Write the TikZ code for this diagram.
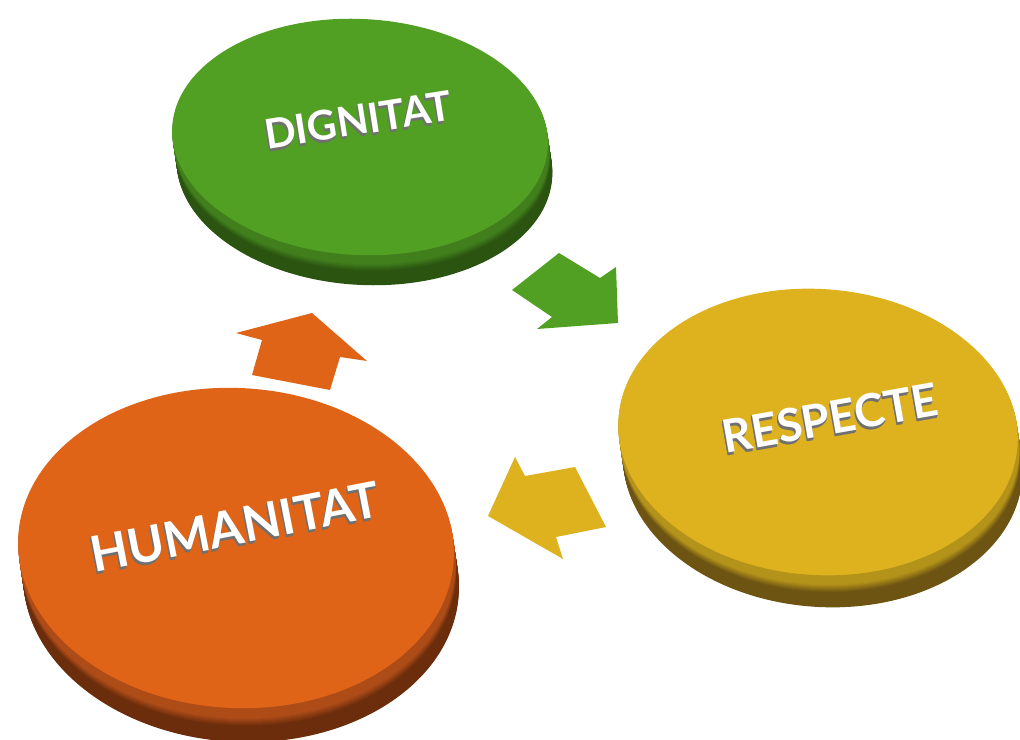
\documentclass[tikz,border=0pt]{standalone}
\usepackage{fontspec}
\setmainfont{Lato}
\definecolor{gtop}{HTML}{52A023}
\definecolor{gsa}{HTML}{417F1D}
\definecolor{gsb}{HTML}{2A5410}
\definecolor{otop}{HTML}{E06418}
\definecolor{osa}{HTML}{AE4C18}
\definecolor{osb}{HTML}{6B2D0B}
\definecolor{ytop}{HTML}{DEB21E}
\definecolor{ysa}{HTML}{B4931A}
\definecolor{ysb}{HTML}{6E5412}
\definecolor{tshadow}{HTML}{707070}
\newcommand\mydisk[8]{% cx cy rx ry rot thick sidetop sidebot
  \foreach \d in {#6,...,1}{%
    \pgfmathsetmacro\pp{min(100,max(0,(\d/#6-0.3)*400))}%
    \fill[#8!\pp!#7] (#1+0.15*\d,#2+\d) ellipse[x radius=#3, y radius=#4, rotate=#5];
  }%
}
\tikzset{
  lbl/.style={text=white, inner sep=0pt},
  lblsh/.style={text=tshadow, inner sep=0pt},
  fdig/.style={font=\bfseries\fontsize{35}{38}\selectfont, rotate=9},
  fres/.style={font=\bfseries\fontsize{39}{42}\selectfont, rotate=10},
  fhum/.style={font=\bfseries\fontsize{42}{45}\selectfont, rotate=11},
}
\begin{document}
\begin{tikzpicture}[x=0.03cm,y=-0.03cm]
\useasboundingbox (0,0) rectangle (1020,740);
% green disk
\mydisk{360}{137}{188}{118}{-3}{30}{gsa}{gsb}
\fill[gtop] (360,137) ellipse[x radius=188, y radius=118, rotate=-3];
% yellow disk
\mydisk{818}{432}{200}{143}{-4}{32}{ysa}{ysb}
\fill[ytop] (818,432) ellipse[x radius=200, y radius=143, rotate=-4];
% orange disk
\mydisk{236}{548}{218}{160}{-3}{34}{osa}{osb}
\fill[otop] (236,548) ellipse[x radius=218, y radius=160, rotate=-3];
% arrows
\fill[gtop] (559,253) -- (512,290) -- (552,317) -- (537,329) -- (618,323) -- (616,267) -- (600,278) -- cycle;
\fill[ytop] (515,457) -- (525,476) -- (575,467) -- (606,527) -- (556,537) -- (563,559) -- (488,516) -- cycle;
\fill[otop] (312,313) -- (236,333) -- (262,340) -- (252,375) -- (330,390) -- (340,357) -- (367,361) -- cycle;
% label extrusion shadows
\foreach \s in {1,2,3}{
  \node[lblsh, fdig] at (358-0.33*\s,120+\s) {DIGNITAT};
  \node[lblsh, fres] at (830-0.33*\s,418+\s) {RESPECTE};
  \node[lblsh, fhum] at (235-0.33*\s,527+\s) {HUMANITAT};
}
% labels
\node[lbl, fdig] (dig) at (358,120) {DIGNITAT};
\node[lbl, fres] (res) at (830,418) {RESPECTE};
\node[lbl, fhum] (hum) at (235,527) {HUMANITAT};
\end{tikzpicture}
\end{document}
